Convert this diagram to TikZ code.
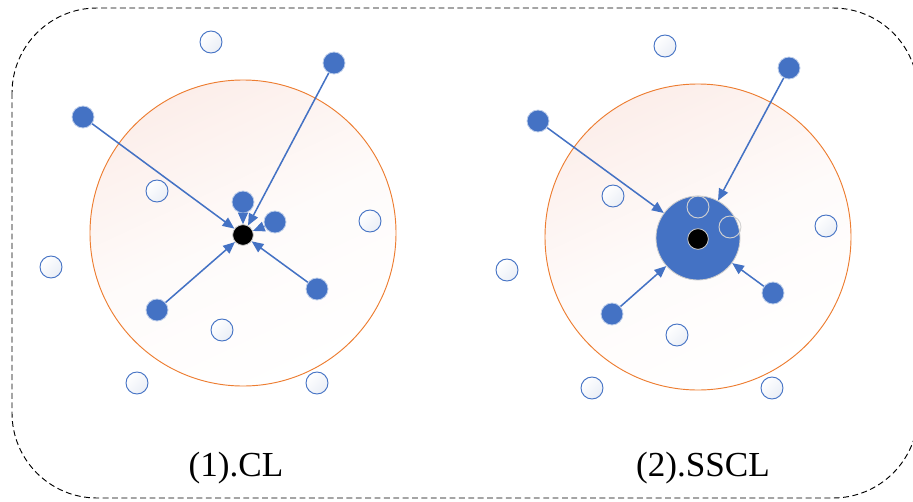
\documentclass[tikz,border=0pt]{standalone}
\usepackage{fontspec}
\setmainfont{Liberation Serif}
\usetikzlibrary{arrows.meta,shapes.geometric}
\definecolor{azul}{HTML}{4472C4}
\definecolor{laranja}{HTML}{ED7D31}
\definecolor{rosa}{HTML}{FCEEEA}
\definecolor{cinzaazul}{HTML}{EAEEF6}
\tikzset{
    vazio/.style={
        circle,
        draw=azul,
        line width=0.8pt,
        inner sep=0pt,
        minimum size=0.66cm,
        top color=white,
        bottom color=cinzaazul,
        shading angle=45
    },
    cheio/.style={circle, draw=azul!35!white, line width=0.7pt, fill=azul, inner sep=0pt, minimum size=0.66cm},
    centro/.style={circle, draw=gray!40, line width=0.7pt, fill=black, inner sep=0pt, minimum size=0.62cm},
    interno/.style={circle, draw=gray!35, line width=0.8pt, inner sep=0pt, minimum size=0.66cm},
    raio/.style={
        circle,
        draw=laranja,
        line width=0.8pt,
        inner sep=0pt,
        minimum size=9.18cm,
        top color=rosa,
        bottom color=white,
        middle color=rosa!25!white,
        shading angle=25
    },
    seta/.style={-{Triangle[length=10pt,width=8.5pt]}, draw=azul, line width=1.3pt},
    rotulo/.style={font=\fontsize{30}{36}\selectfont, inner sep=0pt, anchor=base}
}

\begin{document}
\begin{tikzpicture}[x=0.03cm, y=-0.03cm]

    \useasboundingbox (0,0) rectangle (913,502);

    % moldura tracejada
    \draw[dashed, dash pattern=on 5pt off 3pt, line width=0.8pt, rounded corners=2.55cm]
        (12,8) rectangle (918,498);

    % (1) CL
    \node[raio] (raioA) at (243,233) {};

    \node[vazio] (va1) at (211,42) {};
    \node[vazio] (va2) at (157,191) {};
    \node[vazio] (va3) at (370,221) {};
    \node[vazio] (va4) at (51,267) {};
    \node[vazio] (va5) at (222,330) {};
    \node[vazio] (va6) at (137,383) {};
    \node[vazio] (va7) at (317,383) {};

    \node[centro] (centroA) at (243,235) {};

    \node[cheio] (a1) at (83,117) {};
    \node[cheio] (a2) at (334,63) {};
    \node[cheio] (a3) at (243,202) {};
    \node[cheio] (a4) at (275,222) {};
    \node[cheio] (a5) at (157,310) {};
    \node[cheio] (a6) at (317,289) {};

    \draw[seta] (a1) -- (centroA);
    \draw[seta] (a2) -- (centroA);
    \draw[seta] (a3) -- (centroA);
    \draw[seta] (a4) -- (centroA);
    \draw[seta] (a5) -- (centroA);
    \draw[seta] (a6) -- (centroA);

    \node[rotulo] (tituloA) at (236,476) {(1).CL};

    % (2) SSCL
    \node[raio] (raioB) at (698,237) {};

    \node[vazio] (vb1) at (665,46) {};
    \node[vazio] (vb2) at (613,196) {};
    \node[vazio] (vb3) at (826,226) {};
    \node[vazio] (vb4) at (507,270) {};
    \node[vazio] (vb5) at (677,335) {};
    \node[vazio] (vb6) at (592,388) {};
    \node[vazio] (vb7) at (772,388) {};

    \node[circle, draw=gray!40, line width=0.7pt, fill=azul, minimum size=2.52cm] (bolha) at (698,238) {};
    \node[interno] (s1) at (698,207) {};
    \node[interno] (s2) at (730,227) {};
    \node[centro] (centroB) at (698,239) {};

    \node[cheio] (b1) at (538,121) {};
    \node[cheio] (b2) at (789,68) {};
    \node[cheio] (b3) at (612,314) {};
    \node[cheio] (b4) at (773,293) {};

    \draw[seta] (b1) -- (bolha);
    \draw[seta] (b2) -- (bolha);
    \draw[seta] (b3) -- (bolha);
    \draw[seta] (b4) -- (bolha);

    \node[rotulo] (tituloB) at (703,476) {(2).SSCL};

\end{tikzpicture}
\end{document}
